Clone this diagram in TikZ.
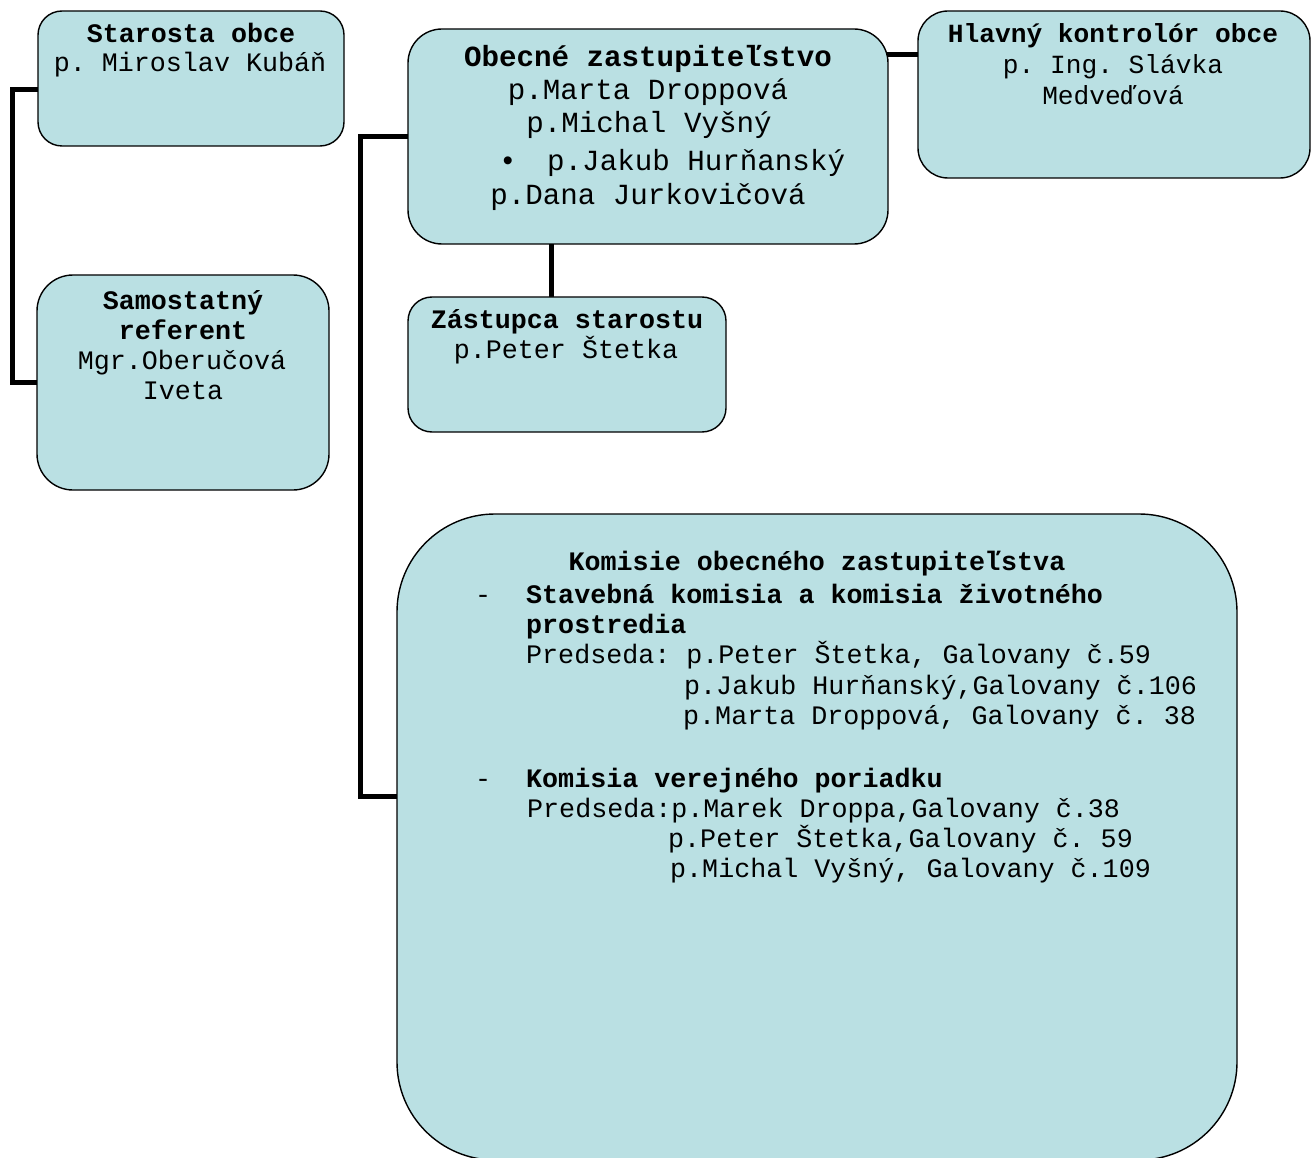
\documentclass[tikz,border=0pt]{standalone}
\usepackage{fontspec}
\usetikzlibrary{backgrounds}
\newfontfamily\cour{Liberation Mono}
\definecolor{boxfill}{RGB}{186,224,227}
\newcommand\fsA{\cour\frenchspacing\fontsize{26.7pt}{30pt}\selectfont}
\newcommand\fsB{\cour\frenchspacing\fontsize{29.2pt}{34pt}\selectfont}
\newcommand\fsC{\cour\frenchspacing\fontsize{26.2pt}{30pt}\selectfont}
\begin{document}
\begin{tikzpicture}[x=1pt,y=-1pt,
  box/.style={draw=black, line width=1.4pt, fill=boxfill, inner sep=0pt, outer sep=0pt, anchor=north west},
  conn/.style={draw=black, line width=5pt, line cap=butt, line join=miter},
  ta/.style={inner sep=0pt, anchor=base, font=\fsA},
  tb/.style={inner sep=0pt, anchor=base, font=\fsB},
  tc/.style={inner sep=0pt, anchor=base, font=\fsC},
  tl/.style={inner sep=0pt, anchor=base west, font=\fsA}]
\useasboundingbox (0,0) rectangle (1312,1158);
\clip (0,0) rectangle (1312,1158);

% boxes
\node[box, rounded corners=24pt, minimum width=306pt, minimum height=135pt] (starosta) at (38,11) {};
\node[box, rounded corners=36pt, minimum width=292pt, minimum height=215pt] (samo) at (37,275) {};
\node[box, rounded corners=34pt, minimum width=480pt, minimum height=215pt] (obecne) at (408,29) {};
\node[box, rounded corners=30pt, minimum width=392pt, minimum height=167pt] (hlavny) at (918,11) {};
\node[box, rounded corners=24pt, minimum width=318pt, minimum height=135pt] (zast) at (408,297) {};
\node[box, rounded corners=98pt, minimum width=840pt, minimum height=646pt] (komisie) at (397,514) {};

% connectors
\coordinate (c1) at (12,90);
\coordinate (c2) at (360,796);
\coordinate (c3) at (551,250);
\coordinate (c4) at (900,55);
\begin{scope}[on background layer]
\draw[conn] ([xshift=10pt]starosta.west |- c1) -- (c1) |- ([xshift=10pt]samo.west);
\draw[conn] ([xshift=10pt]obecne.west) -| (c2) -- ([xshift=10pt]komisie.west |- c2);
\draw[conn] ([yshift=10pt]obecne.south -| c3) -- ([yshift=-10pt]zast.north -| c3);
\draw[conn] ([xshift=-15pt]obecne.east |- c4) -- ([xshift=10pt]hlavny.west |- c4);
\end{scope}

% Starosta
\node[ta] (s1) at (191,43) {\bfseries Starosta obce};
\node[ta] (s2) at (190,72) {p. Miroslav Kubáň};
% Samostatny
\node[ta] (r1) at (183,309) {\bfseries Samostatný};
\node[ta] (r2) at (183,339) {\bfseries referent};
\node[ta] (r3) at (182,369) {Mgr.Oberučová};
\node[ta] (r4) at (183,399) {Iveta};
% Obecne
\node[tb] (o1) at (648,67) {\bfseries Obecné zastupiteľstvo};
\node[tb] (o2) at (648,100) {p.Marta Droppová};
\node[tb] (o3) at (649,133) {p.Michal Vyšný};
\node[tb] (o4b) at (508,171) {•};
\node[tb, anchor=base west] (o4) at (547,171) {p.Jakub Hurňanský};
\node[tb] (o5) at (648,205) {p.Dana Jurkovičová};
% Hlavny
\node[tc] (h1) at (1113,43) {\bfseries Hlavný kontrolór obce};
\node[tc] (h2) at (1113,74) {p. Ing. Slávka};
\node[tc] (h3) at (1113,105) {Medveďová};
% Zastupca
\node[ta] (z1) at (567,329) {\bfseries Zástupca starostu};
\node[ta] (z2) at (566,359) {p.Peter Štetka};
% Komisie
\node[ta] (k0) at (817,570) {\bfseries Komisie obecného zastupiteľstva};
\node[tl] (kd1) at (475,603) {-};
\node[tl] (k1) at (526,603) {\bfseries Stavebná komisia a komisia životného};
\node[tl] (k2) at (526,633) {\bfseries prostredia};
\node[tl] (k3) at (526,663) {Predseda: p.Peter Štetka, Galovany č.59};
\node[tl] (k4) at (684,694) {p.Jakub Hurňanský,Galovany č.106};
\node[tl] (k5) at (683,724) {p.Marta Droppová, Galovany č. 38};
\node[tl] (kd2) at (475,787) {-};
\node[tl] (k6) at (526,787) {\bfseries Komisia verejného poriadku};
\node[tl] (k7) at (527,817) {Predseda:p.Marek Droppa,Galovany č.38};
\node[tl] (k8) at (668,847) {p.Peter Štetka,Galovany č. 59};
\node[tl] (k9) at (670,877) {p.Michal Vyšný, Galovany č.109};
\end{tikzpicture}
\end{document}
